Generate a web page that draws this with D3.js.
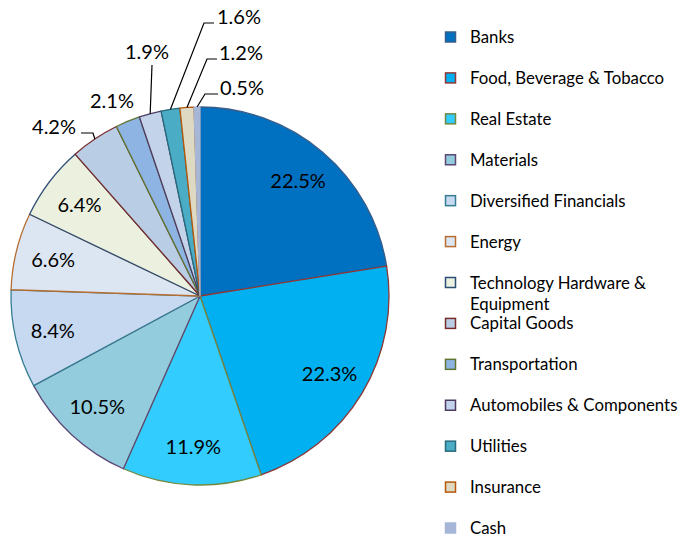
<!DOCTYPE html>
<meta charset="utf-8">
<script src="https://d3js.org/d3.v7.min.js"></script>
<style>
  body { margin: 0; background: #fff; }
  text { font-family: Lato, "Open Sans", sans-serif; }
</style>
<body>
<div id="chart"></div>
<script>

// sector weights, clockwise from 12 o'clock
var categories = ["Banks", "Food, Beverage & Tobacco", "Real Estate", "Materials",
  "Diversified Financials", "Energy", "Technology Hardware & Equipment", "Capital Goods",
  "Transportation", "Automobiles & Components", "Utilities", "Insurance", "Cash"];
var values = [22.5, 22.3, 11.9, 10.5, 8.4, 6.6, 6.4, 4.2, 2.1, 1.9, 1.6, 1.2, 0.5];
var fills = ["#0070C0", "#00B0F0", "#33CCFF", "#93CDDD", "#C6D9F1", "#DCE6F2",
  "#EBF1DE", "#B9CDE5", "#8EB4E3", "#C2D3EA", "#4BACC6", "#DDD9C3", "#A6B6D6"];
var strokes = ["#385D8A", "#8C3836", "#71893F", "#5C4776", "#357D91", "#B66D31",
  "#2C4D75", "#772C2A", "#5F7530", "#4D3B62", "#276A7C", "#B65708", "#A6B6D6"];

var width = 682, height = 540;
var cx = 200, cy = 296, R = 189;

var svg = d3.select("#chart").append("svg")
    .attr("width", width)
    .attr("height", height);

var pie = d3.pie().sort(null).value(function(d) { return d; });
var arcs = pie(values);
var arc = d3.arc().innerRadius(0).outerRadius(R);
var labelArc = d3.arc().innerRadius(R * 0.8).outerRadius(R * 0.8);
var edgeArc = d3.arc().innerRadius(R).outerRadius(R);

var g = svg.append("g").attr("transform", "translate(" + cx + "," + cy + ")");

g.selectAll("path.slice")
  .data(arcs)
  .enter().append("path")
    .attr("class", "slice")
    .attr("d", arc)
    .attr("fill", function(d, i) { return fills[i]; })
    .attr("stroke", function(d, i) { return strokes[i]; })
    .attr("stroke-width", 1.3)
    .attr("stroke-linejoin", "round");

// labels inside the bigger slices
g.selectAll("text.inside")
  .data(arcs.filter(function(d) { return d.data >= 5; }))
  .enter().append("text")
    .attr("class", "inside")
    .attr("transform", function(d) { return "translate(" + labelArc.centroid(d) + ")"; })
    .attr("text-anchor", "middle")
    .attr("dy", "0.36em")
    .style("font-size", "20px")
    .attr("fill", "#000")
    .text(function(d) { return d.data.toFixed(1) + "%"; });

// small slices: label outside with a leader (elbow + end are in svg coords)
var callouts = {
  "Capital Goods":            { elbow: [93, 133], end: [81, 133], text: [76, 127], anchor: "end" },
  "Transportation":           { text: [112, 101], anchor: "middle" },
  "Automobiles & Components": { elbow: [152, 65], end: [152, 65], text: [147, 52], anchor: "middle" },
  "Utilities":                { elbow: [204, 23], end: [214, 23], text: [217, 17], anchor: "start" },
  "Insurance":                { elbow: [207, 59], end: [217, 59], text: [219, 53], anchor: "start" },
  "Cash":                     { elbow: [205, 94], end: [218, 94], text: [220, 88], anchor: "start" }
};

arcs.forEach(function(d, i) {
  var c = callouts[categories[i]];
  if (!c) return;
  var p = edgeArc.centroid(d);
  var start = [p[0] + cx, p[1] + cy];
  if (c.elbow) {
    svg.append("path")
      .attr("d", d3.line()([start, c.elbow, c.end]))
      .attr("fill", "none")
      .attr("stroke", "#000")
      .attr("stroke-width", 1.2);
  }
  svg.append("text")
    .attr("x", c.text[0])
    .attr("y", c.text[1])
    .attr("dy", "0.36em")
    .attr("text-anchor", c.anchor)
    .style("font-size", "20px")
    .attr("fill", "#000")
    .text(d.data.toFixed(1) + "%");
});

// legend
var legend = svg.append("g").attr("transform", "translate(445,0)");
var row = d3.scaleLinear().domain([0, categories.length - 1]).range([37, 528]);

var items = legend.selectAll("g.item")
  .data(categories)
  .enter().append("g")
    .attr("class", "item")
    .attr("transform", function(d, i) { return "translate(0," + row(i) + ")"; });

items.append("rect")
  .attr("x", 0.5)
  .attr("y", -5)
  .attr("width", 10)
  .attr("height", 10)
  .attr("fill", function(d, i) { return fills[i]; })
  .attr("stroke", function(d, i) { return strokes[i]; })
  .attr("stroke-width", 1.5);

items.append("text")
  .attr("x", 25)
  .attr("y", 0)
  .style("font-size", "16.8px")
  .attr("fill", "#000")
  .each(function(d) {
    var t = d3.select(this);
    var words = d.split(" "), line = [], lines = [];
    words.forEach(function(w) {
      var test = line.concat(w).join(" ");
      t.text(test);
      if (this.getComputedTextLength() > 210 && line.length) {
        lines.push(line.join(" "));
        line = [w];
      } else {
        line.push(w);
      }
    }, this);
    lines.push(line.join(" "));
    t.text(null);
    lines.forEach(function(l, k) {
      t.append("tspan").attr("x", 25).attr("dy", k === 0 ? "0.36em" : "1.25em").text(l);
    });
  });

</script>
</body>
